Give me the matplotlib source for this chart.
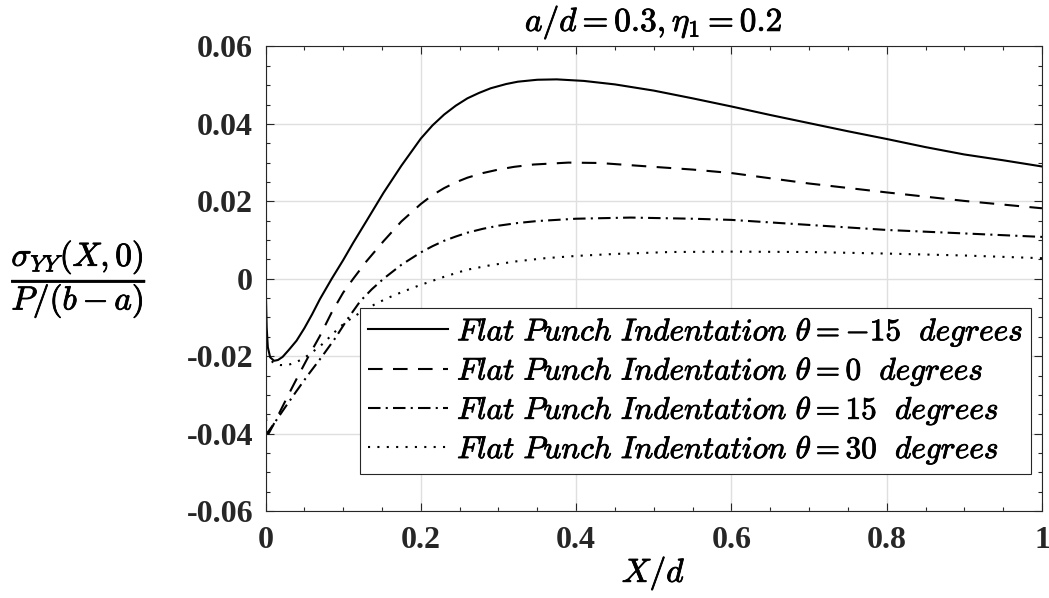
import matplotlib
matplotlib.use("Agg")
import matplotlib.pyplot as plt
import matplotlib.patheffects as pe
from matplotlib.ticker import MultipleLocator

plt.rcParams['mathtext.fontset'] = 'cm'
plt.rcParams['font.family'] = 'Liberation Serif'

# theta = -15 degrees
x_m15 = [0, 0.0015, 0.003, 0.006, 0.011, 0.016, 0.022, 0.03, 0.04, 0.05, 0.06, 0.07,
         0.0853, 0.1, 0.113, 0.13, 0.152, 0.175, 0.2, 0.215, 0.23, 0.245, 0.26, 0.275,
         0.29, 0.31, 0.325, 0.35, 0.375, 0.41, 0.45, 0.5, 0.55, 0.6, 0.65, 0.7, 0.75,
         0.8, 0.85, 0.9, 0.95, 1.0]
y_m15 = [0, -0.0125, -0.0177, -0.0203, -0.0212, -0.021, -0.0202, -0.0184, -0.016, -0.0128,
         -0.0092, -0.0053, 0, 0.0048, 0.0093, 0.0149, 0.0222, 0.0292, 0.0362, 0.0396,
         0.0424, 0.0447, 0.0466, 0.048, 0.0492, 0.0503, 0.0509, 0.0514, 0.0515, 0.0511,
         0.0502, 0.0486, 0.0466, 0.0445, 0.0423, 0.0402, 0.0381, 0.0361, 0.034, 0.0321,
         0.0306, 0.029]

# theta = 0 degrees
x_0 = [0, 0.001, 0.002, 0.004, 0.01, 0.02, 0.03, 0.04, 0.055, 0.07, 0.085, 0.1, 0.113,
       0.13, 0.152, 0.175, 0.2, 0.215, 0.23, 0.245, 0.26, 0.28, 0.3, 0.32, 0.345, 0.39,
       0.43, 0.5, 0.55, 0.6, 0.7, 0.8, 0.9, 1.0]
y_0 = [-0.033, -0.037, -0.0395, -0.04, -0.0378, -0.0338, -0.0298, -0.0259, -0.0202,
       -0.0148, -0.0088, -0.0036, 0, 0.0045, 0.0097, 0.0148, 0.0193, 0.0216, 0.0234,
       0.0249, 0.0261, 0.0273, 0.0282, 0.0289, 0.0295, 0.03, 0.0299, 0.0289, 0.0282,
       0.0273, 0.0246, 0.0223, 0.0201, 0.0182]

# theta = 15 degrees
x_15 = [0, 0.01, 0.025, 0.04, 0.055, 0.072, 0.09, 0.105, 0.122, 0.137, 0.152, 0.175,
        0.2, 0.215, 0.23, 0.245, 0.26, 0.28, 0.3, 0.325, 0.35, 0.4, 0.47, 0.55, 0.6,
        0.7, 0.8, 0.9, 1.0]
y_15 = [-0.0405, -0.0377, -0.0333, -0.029, -0.0248, -0.0203, -0.0153, -0.0106, -0.0058,
        -0.0027, 0, 0.0036, 0.0068, 0.0084, 0.0098, 0.0109, 0.0119, 0.0129, 0.0137,
        0.0144, 0.0149, 0.0155, 0.0158, 0.0155, 0.0152, 0.0139, 0.0126, 0.0117, 0.0108]

# theta = 30 degrees
x_30 = [0.008, 0.012, 0.019, 0.029, 0.04, 0.049, 0.06, 0.07, 0.083, 0.096, 0.11, 0.124,
        0.14, 0.156, 0.175, 0.197, 0.23, 0.259, 0.29, 0.3235, 0.36, 0.401, 0.45, 0.521,
        0.6, 0.7, 0.8, 0.9, 1.0]
y_30 = [-0.0213, -0.022, -0.0223, -0.0223, -0.0215, -0.0206, -0.019, -0.0175, -0.015,
        -0.0124, -0.0103, -0.0085, -0.0067, -0.0051, -0.0035, -0.0018, 0.0005, 0.0023,
        0.0035, 0.0045, 0.0053, 0.0059, 0.0064, 0.0069, 0.007, 0.0069, 0.0065, 0.006, 0.0053]

labels = [r'$Flat\ Punch\ Indentation\ \theta = -15\ \ degrees$',
          r'$Flat\ Punch\ Indentation\ \theta = 0\ \ degrees$',
          r'$Flat\ Punch\ Indentation\ \theta = 15\ \ degrees$',
          r'$Flat\ Punch\ Indentation\ \theta = 30\ \ degrees$']

xticks = [0, 0.2, 0.4, 0.6, 0.8, 1.0]
xtick_labels = ['0', '0.2', '0.4', '0.6', '0.8', '1']
yticks = [-0.06, -0.04, -0.02, 0, 0.02, 0.04, 0.06]
ytick_labels = ['-0.06', '-0.04', '-0.02', '0', '0.02', '0.04', '0.06']

axcol = '#262626'
heavy = [pe.withStroke(linewidth=0.6, foreground='black')]

fig = plt.figure(figsize=(10.49, 5.98), dpi=100)
ax = fig.add_axes([0.2531, 0.1455, 0.7402, 0.7768])

lw = 1.5
ax.plot(x_m15, y_m15, color='black', lw=lw, ls='-', label=labels[0])
ax.plot(x_0, y_0, color='black', lw=lw, ls=(0, (7, 5)), label=labels[1])
ax.plot(x_15, y_15, color='black', lw=lw, ls=(0, (6, 2.5, 1, 2.5)), label=labels[2])
ax.plot(x_30, y_30, color='black', lw=lw, ls=(0, (1, 3.5)), label=labels[3])

ax.set_xlim(0, 1)
ax.set_ylim(-0.06, 0.06)
ax.set_xticks(xticks)
ax.set_xticklabels(xtick_labels)
ax.set_yticks(yticks)
ax.set_yticklabels(ytick_labels)
ax.xaxis.set_minor_locator(MultipleLocator(0.05))
ax.yaxis.set_minor_locator(MultipleLocator(0.005))

ax.grid(True, which='major', color='#dfdfdf', lw=1)
ax.set_axisbelow(True)
ax.tick_params(which='both', direction='in', top=True, right=True, color=axcol,
               labelcolor=axcol, width=0.8)
ax.tick_params(which='major', length=6)
ax.tick_params(which='minor', length=3)
ax.tick_params(axis='y', pad=9)
ax.tick_params(axis='x', pad=11)
for lab in ax.get_xticklabels() + ax.get_yticklabels():
    lab.set_fontweight('bold')
    lab.set_fontsize(23)
for s in ax.spines.values():
    s.set_color(axcol)
    s.set_linewidth(0.8)

ax.text(0.5, 1.053, r'$a/d = \mathbf{0.3}, \eta_1 = \mathbf{0.2}$', transform=ax.transAxes,
        ha='center', va='center', fontsize=24, color='black', path_effects=heavy)
ax.set_xlabel(r'$X/d$', fontsize=24, va='center', path_effects=heavy)
ax.xaxis.set_label_coords(0.5, -0.133)
ax.set_ylabel(r'$\dfrac{\sigma_{YY}(X,0)}{P/(b-a)}$', fontsize=24, rotation=0,
              ha='center', va='center', path_effects=heavy)
ax.yaxis.set_label_coords(-0.240, 0.5)

leg = ax.legend(loc='lower right', bbox_to_anchor=(0.986, 0.0797), borderaxespad=0,
                fancybox=False, edgecolor='#262626', framealpha=1, fontsize=22.5,
                handlelength=2.56, handletextpad=0.3, labelspacing=0.2, borderpad=0.25)
leg.get_frame().set_linewidth(0.8)
for t in leg.get_texts():
    t.set_path_effects(heavy)

fig.savefig('out.png', dpi=100)
